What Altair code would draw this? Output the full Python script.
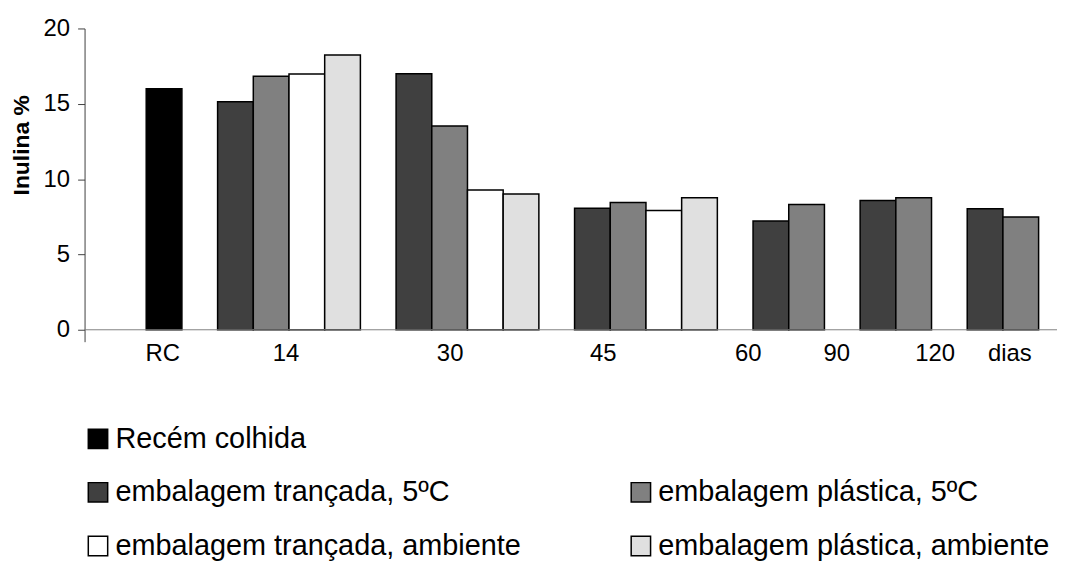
import altair as alt
import pandas as pd

# ---------------- data ----------------
groups = ["RC", "14", "30", "45", "60", "90", "120"]
series = [
    "Recém colhida",
    "embalagem trançada, 5ºC",
    "embalagem plástica, 5ºC",
    "embalagem trançada, ambiente",
    "embalagem plástica, ambiente",
]
recem = [16.0, None, None, None, None, None, None]
trancada_5 = [None, 15.13, 17.0, 8.07, 7.22, 8.58, 8.03]
plastica_5 = [None, 16.83, 13.53, 8.45, 8.32, 8.76, 7.48]
trancada_amb = [None, 16.98, 9.28, 7.92, None, None, None]
plastica_amb = [None, 18.24, 9.02, 8.76, None, None, None]
fills = ["#000000", "#404040", "#808080", "#ffffff", "#e0e0e0"]

# x tick labels (as placed in the original figure, in bar-slot units)
tick_labels = ["RC", "14", "30", "45", "60", "90", "120", "dias"]
tick_positions = [0.45, 3.9, 8.5, 12.79, 16.85, 19.33, 22.09, 24.18]
y_ticks = [0, 5, 10, 15, 20]

# ---------------- build table: consecutive bar slots, one empty slot between groups ----------------
columns = [recem, trancada_5, plastica_5, trancada_amb, plastica_amb]
rows = []
slot = 0
for gi, g in enumerate(groups):
    present = [(s, col[gi]) for s, col in zip(series, columns) if col[gi] is not None]
    for s, v in present:
        rows.append({"group": g, "series": s, "value": v, "x0": slot, "x1": slot + 1})
        slot += 1
    slot += 1
df = pd.DataFrame(rows)

# legend laid out column by column: left column, then right column (blank cell top-right)
BLANK = " "
legend_domain = [series[0], series[1], series[3], BLANK, series[2], series[4]]
fill_of = dict(zip(series, fills))
fill_of[BLANK] = "transparent"
legend_fill = [fill_of[s] for s in legend_domain]
legend_stroke = ["transparent" if s == BLANK else "black" for s in legend_domain]

FONT = "Liberation Sans"

label_expr = "[{}][indexof([{}], datum.value)]".format(
    ",".join("'{}'".format(t) for t in tick_labels),
    ",".join(str(p) for p in tick_positions),
)

legend = alt.Legend(
    title=None,
    orient="none",
    legendX=-1,
    legendY=398,
    columns=2,
    columnPadding=106,
    rowPadding=24,
    symbolType="square",
    symbolSize=380,
    symbolStrokeWidth=1.5,
    labelFontSize=29,
    labelFont=FONT,
    labelColor="black",
    labelLimit=0,
    labelOffset=3,
)

x_enc = alt.X(
    "x0:Q",
    scale=alt.Scale(domain=[-1.727, 25.515], nice=False, zero=False),
    axis=alt.Axis(
        values=tick_positions,
        labelExpr=label_expr,
        domain=False,
        ticks=False,
        tickSize=0,
        grid=False,
        title=None,
        labelFontSize=24,
        labelFont=FONT,
        labelColor="black",
        labelPadding=0,
        labelOverlap=False,
        labelFlush=False,
    ),
)

y_enc = alt.Y(
    "value:Q",
    scale=alt.Scale(domain=[-0.79, 20], nice=False, zero=False),
    axis=alt.Axis(
        values=y_ticks,
        grid=False,
        tickSize=7,
        tickColor="#404040",
        domainColor="#404040",
        labelPadding=8,
        labelFontSize=24,
        labelFont=FONT,
        labelColor="black",
        title="Inulina %",
        titleFont=FONT,
        titleFontSize=23,
        titleFontWeight="bold",
        titleColor="black",
        titleAngle=270,
        titleAlign="center",
        titleBaseline="middle",
        titleX=-63,
        titleY=117,
    ),
)

bars = alt.Chart(df).mark_bar(strokeWidth=1.5).encode(
    x=x_enc,
    x2="x1:Q",
    y=y_enc,
    y2=alt.datum(0),
    color=alt.Color("series:N", scale=alt.Scale(domain=legend_domain, range=legend_fill), legend=legend),
    stroke=alt.Stroke("series:N", scale=alt.Scale(domain=legend_domain, range=legend_stroke), legend=legend),
)

baseline = alt.Chart(pd.DataFrame({"y": [0]})).mark_rule(color="#808080", strokeWidth=1).encode(
    y=alt.Y("y:Q")
)

chart = (
    alt.layer(bars, baseline)
    .properties(
        width=978,
        height=315,
        padding={"left": 77, "top": 19, "right": 0, "bottom": 220},
        autosize=alt.AutoSizeParams(type="none"),
    )
    .configure(font=FONT)
    .configure_view(stroke=None)
)

chart.save("out.html", embed_options={"renderer": "svg", "actions": False})
